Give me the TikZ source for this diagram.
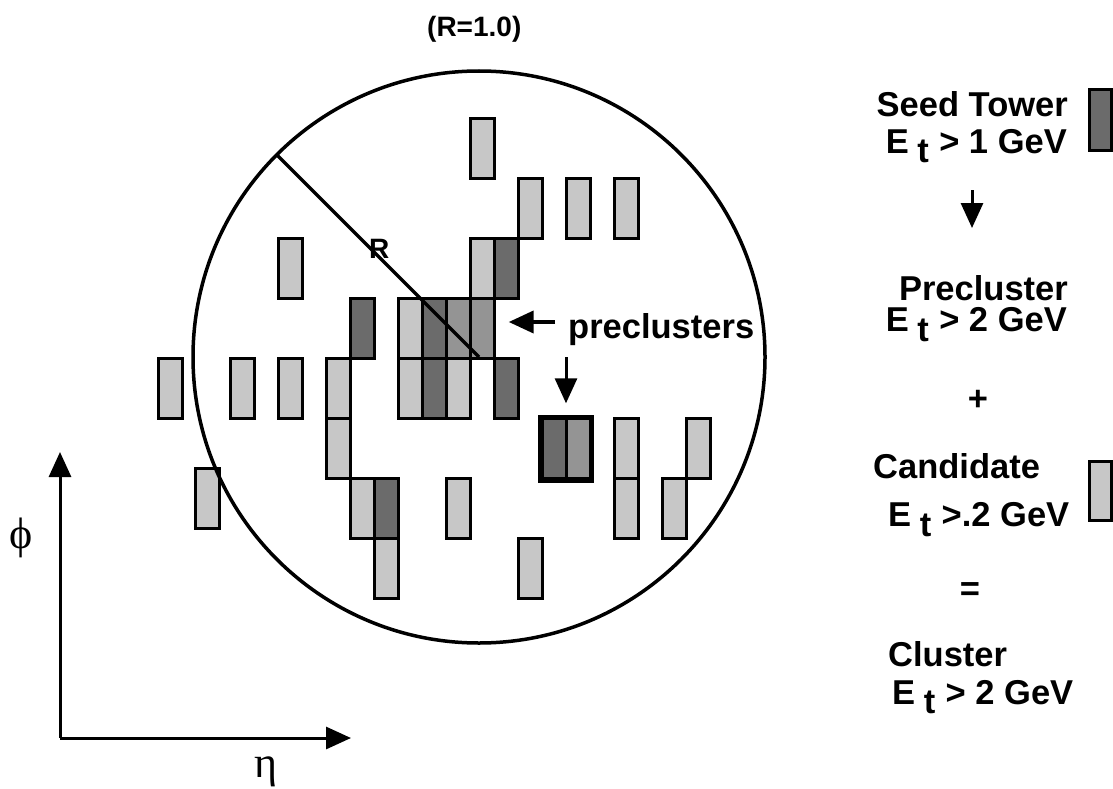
\documentclass[tikz,border=0pt]{standalone}
\usepackage{fontspec}
\setmainfont{Liberation Sans}
\newfontfamily\grkfont{Liberation Serif}
\usetikzlibrary{arrows.meta}
\newcommand{\Etr}{E\hspace{0.25em}\raisebox{-0.28em}{t}\hspace{0.3em}}
\begin{document}
\begin{tikzpicture}[x=1pt,y=-1pt,
    tower/.style={draw,line width=3pt,minimum width=24pt,minimum height=60pt,inner sep=0pt},
    cand/.style={tower,fill=black!22},
    seed/.style={tower,fill=black!58},
    mid/.style={tower,fill=black!42},
    lbl/.style={inner sep=0pt,font=\bfseries\fontsize{34.5}{36}\selectfont},
    greek/.style={inner sep=0pt,font=\grkfont\fontsize{44}{44}\selectfont},
    arr/.style={line width=3pt,-{Triangle[length=25pt,width=22pt]}}]
  \path[use as bounding box,fill=white] (0,0) rectangle (1113,789);
  \foreach \c/\r in {13/0,15/1,17/1,19/1,5/2,13/2,10/3,0/4,3/4,5/4,7/4,10/4,12/4,
                     7/5,19/5,22/5,8/6,12/6,19/6,21/6,9/7,15/7}
    \node[cand] (t\c-\r) at (170.2+24*\c,148.8+60*\r) {};
  \foreach \c/\r in {14/2,8/3,11/3,11/4,14/4,16/5,9/6}
    \node[seed] (t\c-\r) at (170.2+24*\c,148.8+60*\r) {};
  \foreach \c/\r in {12/3,13/3,17/5}
    \node[mid] (t\c-\r) at (170.2+24*\c,148.8+60*\r) {};
  \node[cand] (tlow) at (207.5,498.8) {};
  \draw[line width=5pt] (t16-5.north west) rectangle (t17-5.south east);
  \coordinate (ctr) at (479,357);
  \draw[line width=3.5pt] (ctr) circle[radius=286];
  \draw[line width=3.5pt] (ctr) -- ++(225:286) coordinate (redge);
  \node[lbl,font=\bfseries\fontsize{28}{30}\selectfont,anchor=base west] (rlbl) at (369,258.5) {R};
  \node[lbl,font=\bfseries\fontsize{28}{30}\selectfont,anchor=base west] (title) at (427,36.7) {(R=1.0)};
  \node[lbl,anchor=base west] (pretxt) at (568,338.3) {preclusters};
  \coordinate (pa) at (555,322);
  \draw[arr,line width=4pt,shorten >=13pt] (pa) -- (pa -| t13-3.east);
  \coordinate (da) at (566,357);
  \draw[arr,shorten >=14pt] (da) -- (da |- t16-5.north);
  \node[lbl,anchor=base east] (seedtxt) at (1068,116.7) {Seed Tower};
  \node[lbl,anchor=base east] (seedet) at (1067,153.3) {\Etr> 1 GeV};
  \node[seed,minimum width=22pt,minimum height=61pt] (seedbox) at (1100.5,120) {};
  \coordinate (la1) at (972,190);
  \coordinate (la2) at (972,228);
  \draw[arr] (la1) -- (la2);
  \node[lbl,anchor=base east] (pretxt2) at (1068,300) {Precluster};
  \node[lbl,anchor=base east] (preet) at (1067,331.7) {\Etr> 2 GeV};
  \node[lbl] (plus) at (978,400) {+};
  \node[lbl,anchor=base west] (candtxt) at (873,478.3) {Candidate};
  \node[lbl,anchor=base west] (candet) at (888,526.7) {\Etr>.2 GeV};
  \node[cand,minimum width=22pt,minimum height=59pt] (candbox) at (1100.5,491) {};
  \node[lbl] (eq) at (970,592) {=};
  \node[lbl,anchor=base west] (clutxt) at (888,666.7) {Cluster};
  \node[lbl,anchor=base west] (cluet) at (892,704) {\Etr> 2 GeV};
  \coordinate (orig) at (60,738);
  \coordinate (phitip) at (60,452);
  \coordinate (etatip) at (351,738);
  \draw[arr] (orig) -- (phitip);
  \draw[arr] (orig) -- (etatip);
  \node[greek] (phi) at (21,538) {ϕ};
  \node[greek] (eta) at (266,772) {η};
\end{tikzpicture}
\end{document}
